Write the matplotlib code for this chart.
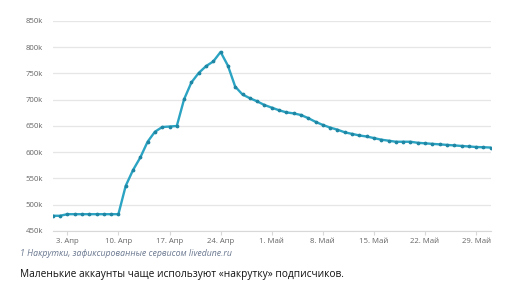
import numpy as np
import matplotlib
matplotlib.use('Agg')
import matplotlib.pyplot as plt

# подписчики, тыс., по дням с 1 апреля по 31 мая
april = [479, 479, 482, 482, 482, 482, 482, 482, 482, 482,
         536, 566, 590, 620, 639, 648, 649, 650, 701, 733,
         751, 764, 773, 791, 765, 725, 710, 703, 697, 690]
may = [685, 680, 676, 674, 671, 665, 658, 652, 647, 643,
       638, 635, 632, 630, 627, 624, 622, 620, 620, 620,
       618, 617, 616, 615, 614, 613, 612, 611, 610, 609.5, 609]
values = np.array(april + may) * 1000

tick_days = [2, 9, 16, 23, 30, 37, 44, 51, 58]
tick_labels = ['3. Апр', '10. Апр', '17. Апр', '24. Апр', '1. Май',
               '8. Май', '15. Май', '22. Май', '29. Май']
y_ticks = [450000, 500000, 550000, 600000, 650000, 700000, 750000, 800000, 850000]

plt.rcParams['font.family'] = ['Open Sans', 'DejaVu Sans']

fig = plt.figure(figsize=(5.05, 2.95), dpi=100)
ax = fig.add_axes([52.7 / 505, 1 - 231 / 295, (490.7 - 52.7) / 505, 210 / 295])

days = np.arange(len(values))
ax.plot(days, values, color='#2ba3c2', lw=1.7, marker='o', ms=1.7,
        mfc='#1f86a3', mec='#1f86a3', zorder=3, solid_joinstyle='round')

ax.set_xlim(0, len(values) - 1)
ax.set_ylim(450000, 850000)
ax.set_yticks(y_ticks)
ax.set_yticklabels(['%dk' % (v // 1000) for v in y_ticks])
ax.set_xticks(tick_days)
ax.set_xticklabels(tick_labels)
ax.grid(axis='y', color='#e6e6e6', lw=0.9)
ax.set_axisbelow(True)
for s in ['top', 'right', 'left']:
    ax.spines[s].set_visible(False)
ax.spines['bottom'].set_color('#d8d8d8')
ax.tick_params(axis='y', length=0, labelsize=5.6, labelcolor='#666666', pad=7)
ax.tick_params(axis='x', length=3, color='#d8d8d8', labelsize=5.6,
               labelcolor='#666666', pad=2)

fig.text(20 / 505, 1 - 253 / 295, '1 Накрутки, зафиксированные сервисом livedune.ru',
         fontsize=6.3, style='italic', color='#6a7890', va='center')
fig.text(20 / 505, 1 - 275 / 295,
         'Маленькие аккаунты чаще используют «накрутку» подписчиков.',
         fontsize=7.3, color='#111111', va='center')

fig.savefig('out.png', dpi=100)
